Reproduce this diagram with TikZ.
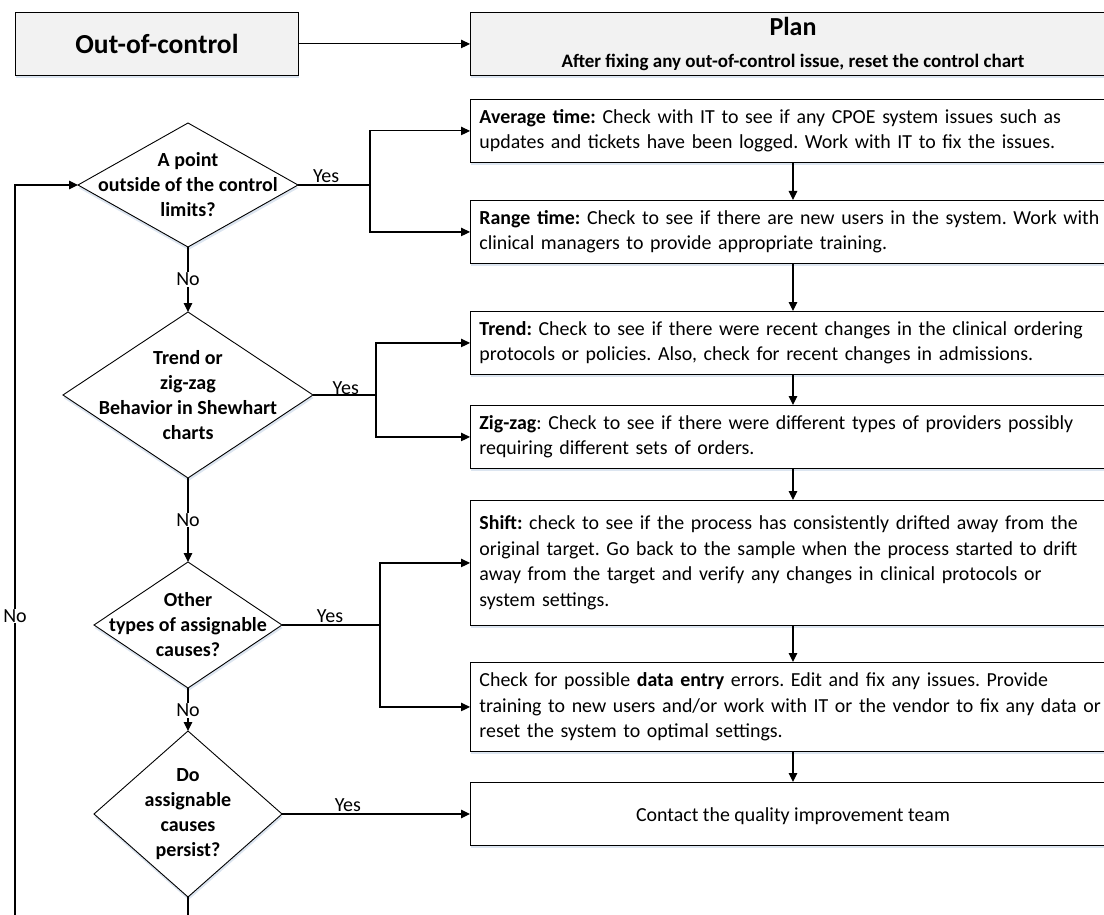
\documentclass[tikz,border=0pt]{standalone}
\usepackage{fontspec}
\setmainfont{Carlito}
\usetikzlibrary{arrows.meta,shadows,calc}

\definecolor{boxgray}{HTML}{F2F2F2}
\definecolor{shadowblue}{HTML}{D3DEEC}

\tikzset{
  soft shadow/.style={drop shadow={shadow xshift=0.5pt, shadow yshift=-3pt, fill=shadowblue, opacity=0.8}},
  wire/.style={line width=1.1pt, black},
  arr/.style={wire, -{Triangle[length=9pt,width=8.5pt]}},
  stepbox/.style={draw, line width=0.9pt, fill=white, soft shadow, anchor=north west,
    inner xsep=9pt, inner ysep=0pt, text width=690pt, align=left,
    font={\fontsize{19.9}{25.5}\selectfont}},
  headbox/.style={draw, line width=0.9pt, fill=boxgray, soft shadow, anchor=north west, inner sep=0pt},
  decisionshape/.style={draw, line width=0.9pt, fill=white, soft shadow},
  qtext/.style={align=center, inner sep=0pt, font={\bfseries\fontsize{20}{25}\selectfont}},
  lbl/.style={inner sep=1pt, font={\fontsize{20}{24}\selectfont}},
}

% decision diamond: name, centre x, centre y, half width, half height, text
\newcommand\decision[6]{%
  \path (#2,#3) coordinate (#1)
        ++(-#4,0) coordinate (#1-w)
        ++(#4,-#5) coordinate (#1-n)
        ++(#4,#5) coordinate (#1-e)
        ++(-#4,#5) coordinate (#1-s);
  \draw[decisionshape] (#1-w) -- (#1-n) -- (#1-e) -- (#1-s) -- cycle;
  \node[qtext] (#1-text) at (#1) {#6};
}

\begin{document}
\frenchspacing
\begin{tikzpicture}[x=1pt, y=-1pt]
\useasboundingbox (0,0) rectangle (1104,915);
\clip (0,0) rectangle (1104,915);

% vertical axis of the action column
\coordinate (axis) at (793,0);

% header row
\node[headbox, minimum width=283pt, minimum height=63pt,
      font={\bfseries\fontsize{27.5}{30}\selectfont}] (out) at (15,12) {Out-of-control};
\node[headbox, minimum width=700pt, minimum height=63pt] (plan) at (470,12) {};
\node[anchor=base, inner sep=0pt, font={\bfseries\fontsize{26}{30}\selectfont}] (plantitle) at (793,36) {Plan};
\node[anchor=base, inner sep=0pt, font={\bfseries\fontsize{19}{22}\selectfont}] (plansub) at (793,68)
  {After fixing any out-of-control issue, reset the control chart};

% action boxes
\node[stepbox, minimum height=63pt] (avg) at (470,99)
  {\textbf{Average time:} Check with IT to see if any CPOE system issues such as\\
   updates and tickets have been logged. Work with IT to fix the issues.};
\node[stepbox, minimum height=63pt] (range) at (470,200)
  {\textbf{Range time:} Check to see if there are new users in the system. Work with\\
   clinical managers to provide appropriate training.};
\node[stepbox, minimum height=63pt] (trend) at (470,311)
  {\textbf{Trend:} Check to see if there were recent changes in the clinical ordering\\
   protocols or policies. Also, check for recent changes in admissions.};
\node[stepbox, minimum height=63pt] (zig) at (470,405)
  {\textbf{Zig-zag}: Check to see if there were different types of providers possibly\\
   requiring different sets of orders.};
\node[stepbox, minimum height=125pt] (shift) at (470,500)
  {\textbf{Shift:} check to see if the process has consistently drifted away from the\\
   original target. Go back to the sample when the process started to drift\\
   away from the target and verify any changes in clinical protocols or\\
   system settings.};
\node[stepbox, minimum height=89pt] (data) at (470,662)
  {Check for possible \textbf{data entry} errors. Edit and fix any issues. Provide\\
   training to new users and/or work with IT or the vendor to fix any data or\\
   reset the system to optimal settings.};
\node[stepbox, minimum height=63pt] (contact) at (470,782) {};
\node[inner sep=0pt, anchor=base, font={\fontsize{19.9}{25.5}\selectfont}] (contacttext) at (793,821)
  {Contact the quality improvement team};

% decisions
\decision{d1}{188}{185}{110}{62}{A point\\outside of the control\\limits?}
\decision{d2}{188}{395}{125}{83}{Trend or\\zig-zag\\Behavior in Shewhart\\charts}
\decision{d3}{188}{625}{94}{63}{Other\\types of assignable\\causes?}
\decision{d4}{188}{814}{94}{83}{Do\\assignable\\causes\\persist?}

% main flow
\draw[arr] (out) -- (out -| plan.west);
\draw[arr] (avg.south -| axis) -- (range.north -| axis);
\draw[arr] (range.south -| axis) -- (trend.north -| axis);
\draw[arr] (trend.south -| axis) -- (zig.north -| axis);
\draw[arr] (zig.south -| axis) -- (shift.north -| axis);
\draw[arr] (shift.south -| axis) -- (data.north -| axis);
\draw[arr] (data.south -| axis) -- (contact.north -| axis);

% yes branches
\draw[wire] (d1-e) -- node[lbl, pos=0.39, above=1pt] {Yes} ++(72,0) coordinate (d1fork);
\draw[arr] (d1fork) |- (avg.west);
\draw[arr] (d1fork) |- (range.west);

\draw[wire] (d2-e) -- node[lbl, pos=0.52, above=-1pt] {Yes} ++(63,0) coordinate (d2fork);
\draw[arr] (d2fork) |- (trend.west);
\draw[arr] (d2fork) |- (zig.west);

\draw[wire] (d3-e) -- node[lbl, pos=0.49, above=1pt] {Yes} ++(98,0) coordinate (d3fork);
\draw[arr] (d3fork) |- (shift.west);
\draw[arr] (d3fork) |- (data.west);

\draw[arr] (d4-e) -- node[lbl, pos=0.35, above=1pt] {Yes} (d4-e -| contact.west);

% no branches
\draw[arr] (d1-s) -- node[lbl, fill=white] {No} (d2-n);
\draw[arr] (d2-s) -- node[lbl, fill=white] {No} (d3-n);
\draw[arr] (d3-s) -- node[lbl, fill=white, pos=0.52] {No} (d4-n);

% loop back to the first check
\coordinate (loopcorner) at (15,960);
\draw[arr] (d4-s) |- (loopcorner) |- (d1-w);
\node[lbl, fill=white] (loopno) at (15,616) {No};
\end{tikzpicture}
\end{document}
